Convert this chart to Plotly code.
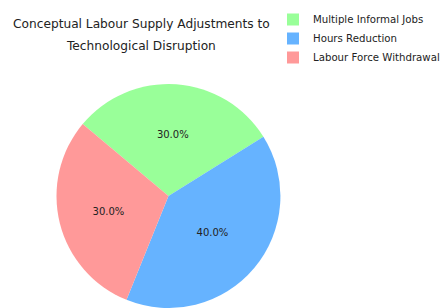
import plotly.graph_objects as go

labels = ["Multiple Informal Jobs", "Hours Reduction", "Labour Force Withdrawal"]
values = [30, 40, 30]
colors = ["#99ff99", "#66b3ff", "#ff9999"]
title_lines = ["Conceptual Labour Supply Adjustments to", "Technological Disruption"]

fig = go.Figure(go.Pie(
    labels=labels,
    values=values,
    marker=dict(colors=colors, line=dict(width=0)),
    sort=False,
    direction="clockwise",
    rotation=-50,
    texttemplate="%{percent:.1%}",
    textposition="inside",
    insidetextorientation="horizontal",
    textfont=dict(family="DejaVu Sans", size=10, color="#222222"),
    hoverinfo="label+percent",
    domain=dict(x=[0.128, 0.636], y=[0.0, 0.727]),
))

title_y = [24, 46]
for line, ty in zip(title_lines, title_y):
    fig.add_annotation(
        text=line,
        x=141 / 441, y=1 - ty / 308, xref="paper", yref="paper",
        xanchor="center", yanchor="middle", showarrow=False,
        font=dict(family="DejaVu Sans", size=12.2, color="#222222"),
    )

fig.update_layout(
    width=441, height=308,
    margin=dict(l=0, r=0, t=0, b=0, autoexpand=False),
    paper_bgcolor="white",
    plot_bgcolor="white",
    showlegend=True,
    legend=dict(
        x=273 / 441, y=1 - 5 / 308, xanchor="left", yanchor="top",
        font=dict(family="DejaVu Sans", size=10.2, color="#222222"),
        bgcolor="rgba(0,0,0,0)",
        itemwidth=30,
    ),
)

fig.write_html(
    "out.html",
    config={"displayModeBar": False},
    post_script="document.body.style.margin='0';document.body.style.overflow='hidden';",
)
